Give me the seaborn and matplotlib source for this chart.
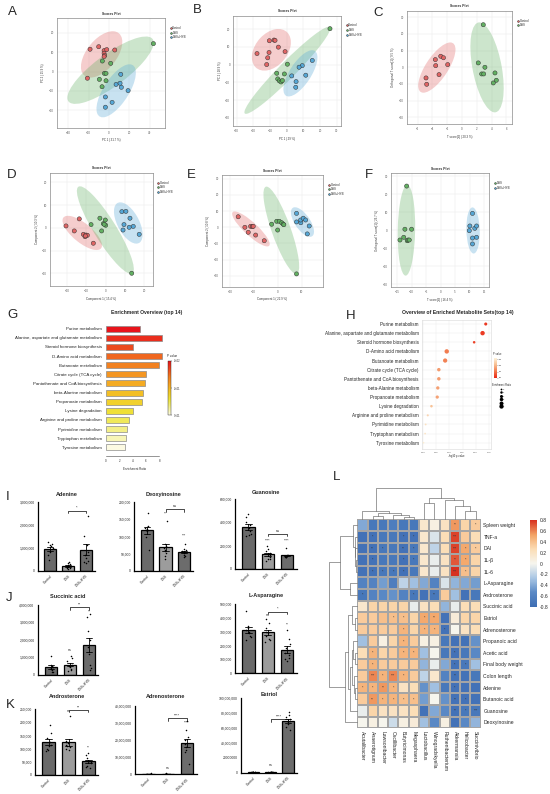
import numpy as np
import pandas as pd
import matplotlib
matplotlib.use('Agg')
import matplotlib.pyplot as plt
import matplotlib.colors as mcolors
from matplotlib.colorbar import ColorbarBase
from matplotlib.lines import Line2D
from matplotlib.patches import Ellipse
import seaborn as sns

sns.set_style('white')
plt.rcParams['font.family'] = ['Liberation Sans', 'DejaVu Sans']

# ---------------- score plots (A-F) ----------------
a_control = [(-18.7, 11.6), (-10.2, 12.9), (-4.9, 10.9), (-2.3, 11.4), (-4.9, 9.5), (-4.3, 8.4), (-4.9, 7.8), (5.6, 11.2), (-21.3, -3.4)]
a_dss = [(43.6, 14.5), (-6.6, 5.5), (1.6, 4.3), (-4.6, -0.9), (-3.0, -0.9), (-9.5, -4.0), (-3.0, -4.7), (-6.9, -7.8)]
a_hyb = [(11.5, -1.4), (6.9, -6.6), (10.8, -6.0), (12.1, -8.1), (18.7, -9.8), (-3.6, -13.1), (3.0, -15.9), (-3.6, -18.4)]

b_control = [(-17.8, 6.2), (-10.4, 13.4), (-7.6, 13.8), (-10.6, 6.8), (-11.4, 3.8), (-12.0, 0.0), (-7.0, 13.6), (-5.0, 9.8), (-1.0, 7.3)]
b_dss = [(25.9, 20.2), (0.4, 0.2), (-6.0, -4.9), (-1.4, -5.3), (-5.4, -8.1), (-4.4, -9.2), (-3.4, -9.8), (-2.6, -9.0)]
b_hyb = [(15.3, 2.3), (9.3, -0.6), (7.4, -1.5), (3.0, -6.4), (11.4, -6.0), (5.6, -9.6), (5.4, -12.8)]

c_control = [(-4.86, -6.4), (-4.77, -10.2), (-3.6, 4.6), (-3.55, 1.0), (-3.1, -4.4), (-2.87, 6.6), (-2.5, 5.7), (-1.93, 1.6)]
c_dss = [(2.88, 25.5), (2.2, 2.6), (3.1, 0.0), (2.66, -4.0), (2.93, -4.0), (4.46, -3.4), (4.64, -7.8), (4.23, -9.4)]

d_control = [(-20.6, 0.9), (-16.3, -1.3), (-13.7, 4.0), (-11.6, -2.8), (-10.7, -3.8), (-10.2, -3.1), (-9.5, -3.2), (-10.5, -3.5), (-6.4, -6.7)]
d_dss = [(-7.6, 1.5), (-3.0, 4.3), (-2.1, -1.3), (-1.2, 1.9), (-0.2, 3.5), (0.0, 1.2), (-0.8, 1.6), (13.5, -19.9)]
d_hyb = [(8.4, 7.2), (10.5, 7.3), (12.6, 4.3), (9.5, 1.5), (9.0, -0.9), (12.2, 0.3), (14.3, 0.7), (17.4, -2.8)]

e_control = [(-16.5, 6.5), (-13.7, 0.0), (-12.3, -3.1), (-11.3, 0.6), (-10.6, 0.4), (-10.2, 0.6), (-9.2, -4.8), (-5.6, -8.3)]
e_dss = [(-2.5, 1.9), (-0.4, 3.7), (0.7, 3.7), (1.7, 2.8), (2.3, 2.0), (2.6, 1.6), (0.0, -1.7), (7.9, -28.8)]
e_hyb = [(7.9, 8.6), (7.9, 3.3), (9.7, 2.8), (9.6, 4.5), (10.7, 5.6), (11.7, 4.5), (13.2, 0.8), (12.4, -4.1)]

f_dss = [(-11.7, 24.6), (-14.0, -5.4), (-12.7, -3.9), (-12.3, 0.6), (-11.5, -5.8), (-11.2, -5.4), (-10.8, -5.4), (-10.0, 0.6)]
f_hyb = [(11.0, 9.4), (10.1, 2.4), (9.9, -0.2), (11.8, 1.1), (12.4, 2.4), (11.0, -4.3), (12.4, -3.9), (11.0, -7.6)]

# ---------------- enrichment (G, H) ----------------
pathways = ['Purine metabolism', 'Alanine, aspartate and glutamate metabolism', 'Steroid hormone biosynthesis',
            'D-Amino acid metabolism', 'Butanoate metabolism', 'Citrate cycle (TCA cycle)',
            'Pantothenate and CoA biosynthesis', 'beta-Alanine metabolism', 'Propanoate metabolism',
            'Lysine degradation', 'Arginine and proline metabolism', 'Pyrimidine metabolism',
            'Tryptophan metabolism', 'Tyrosine metabolism']
enrichment_ratio = [5.1, 8.35, 4.1, 8.35, 7.9, 5.95, 5.9, 5.6, 5.4, 4.1, 3.4, 3.1, 2.95, 2.85]
neg_log10_p = [1.69, 1.63, 1.47, 0.95, 0.92, 0.80, 0.80, 0.78, 0.77, 0.66, 0.59, 0.55, 0.54, 0.51]

# ---------------- metabolite bars (I-K) ----------------
groups = ['Control', 'DSS', 'DSS+HYB']
adenine = {'Control': [1.25e6, 1.2e6, 1.15e6, 1.1e6, 1.0e6, 0.95e6, 0.85e6, 0.7e6, 0.5e6],
           'DSS': [0.35e6, 0.38e6, 0.3e6, 0.25e6, 0.2e6, 0.18e6, 0.15e6, 0.12e6, 0.1e6],
           'DSS+HYB': [2.4e6, 1.55e6, 1.15e6, 0.85e6, 0.7e6, 0.55e6, 0.45e6, 0.4e6, 0.35e6]}
deoxyinosine = {'Control': [170e3, 130e3, 128e3, 125e3, 122e3, 118e3, 115e3, 100e3, 60e3],
                'DSS': [145e3, 80e3, 72e3, 68e3, 62e3, 58e3, 52e3, 45e3, 35e3],
                'DSS+HYB': [78e3, 65e3, 60e3, 58e3, 55e3, 52e3, 48e3, 45e3, 40e3]}
guanosine = {'Control': [470e3, 450e3, 400e3, 380e3, 350e3, 330e3, 300e3, 290e3, 280e3],
             'DSS': [200e3, 170e3, 150e3, 140e3, 120e3, 100e3, 80e3, 80e3, 70e3],
             'DSS+HYB': [175e3, 120e3, 115e3, 110e3, 108e3, 105e3, 100e3, 100e3, 98e3]}
succinic_acid = {'Control': [1.1e6, 0.6e6, 0.5e6, 0.45e6, 0.4e6, 0.35e6, 0.3e6, 0.2e6, 0.15e6],
                 'DSS': [1.1e6, 1.0e6, 0.8e6, 0.6e6, 0.5e6, 0.45e6, 0.35e6, 0.3e6, 0.25e6],
                 'DSS+HYB': [3.5e6, 3.3e6, 2.5e6, 2.0e6, 1.6e6, 1.2e6, 0.6e6, 0.4e6, 0.3e6]}
l_asparagine = {'Control': [450e3, 340e3, 330e3, 310e3, 300e3, 290e3, 270e3, 260e3, 240e3],
                'DSS': [390e3, 360e3, 330e3, 300e3, 290e3, 270e3, 250e3, 240e3, 225e3],
                'DSS+HYB': [310e3, 250e3, 210e3, 180e3, 150e3, 130e3, 110e3, 100e3, 90e3]}
androsterone = {'Control': [190e3, 160e3, 140e3, 125e3, 115e3, 110e3, 100e3, 90e3, 95e3],
                'DSS': [225e3, 130e3, 125e3, 120e3, 115e3, 110e3, 100e3, 95e3, 105e3],
                'DSS+HYB': [85e3, 75e3, 65e3, 55e3, 50e3, 45e3, 35e3, 30e3, 28e3]}
adrenosterone = {'Control': [0.5e6, 0.4e6, 0.35e6, 0.3e6, 0.3e6, 0.25e6, 0.2e6, 0.2e6, 0.2e6],
                 'DSS': [0.5e6, 0.45e6, 0.35e6, 0.3e6, 0.3e6, 0.25e6, 0.2e6, 0.15e6, 0.2e6],
                 'DSS+HYB': [31e6, 26e6, 22e6, 20e6, 18e6, 16e6, 14e6, 13e6, 6e6]}
estriol = {'Control': [1.5e6, 1.2e6, 1.0e6, 1.0e6, 0.9e6, 0.8e6, 0.8e6, 0.7e6, 0.6e6],
           'DSS': [1.4e6, 1.2e6, 1.1e6, 1.0e6, 0.9e6, 0.9e6, 0.8e6, 0.7e6, 0.6e6],
           'DSS+HYB': [82e6, 78e6, 75e6, 72e6, 70e6, 68e6, 65e6, 62e6, 58e6]}

# ---------------- correlation heatmap (L) ----------------
heat_rows = ['Spleen weight', 'TNF-a', 'DAI', '1L-β', '1L-6', 'L-Asparagine', 'Androsterone', 'Succinic acid',
             'Estriol', 'Adrenosterone', 'Propanoic acid', 'Acetic acid', 'Final body weight', 'Colon length',
             'Adenine', 'Butanoic acid', 'Guanosine', 'Deoxyinosine']
heat_cols = ['Acutalibacter', 'Anaerotignum', 'Lawsonibacter', 'Oscillibacter', 'Butyricimonas', 'Megasphaera',
             'Lactobacillus', 'Winogradskyella', 'Ruthenibacterium', 'Akkermansia', 'Helicobacter', 'Succinivibrio']
corr_values = [
    [-0.40, -0.70, -0.70, -0.65, -0.70, -0.70, 0.15, 0.05, 0.20, 0.55, 0.30, 0.35],
    [-0.75, -0.75, -0.70, -0.70, -0.75, -0.75, 0.15, -0.10, 0.25, 0.75, 0.35, 0.25],
    [-0.75, -0.75, -0.70, -0.70, -0.75, -0.70, 0.15, -0.20, 0.25, 0.75, 0.50, 0.35],
    [-0.75, -0.75, -0.70, -0.70, -0.75, -0.70, 0.15, -0.05, 0.20, 0.70, 0.50, 0.30],
    [-0.75, -0.75, -0.70, -0.70, -0.75, -0.70, 0.15, -0.05, 0.20, 0.80, 0.40, 0.30],
    [-0.60, -0.60, -0.45, -0.65, -0.20, -0.30, -0.40, -0.60, -0.10, -0.35, -0.40, -0.45],
    [-0.70, -0.60, -0.55, -0.50, -0.60, -0.70, -0.75, -0.70, 0.35, -0.30, -0.75, -0.70],
    [0.15, 0.30, 0.30, 0.30, 0.30, -0.05, 0.20, 0.25, -0.35, -0.05, 0.25, 0.25],
    [0.35, 0.35, 0.40, 0.40, 0.40, 0.30, 0.50, 0.50, -0.75, 0.10, 0.30, 0.30],
    [0.35, 0.35, 0.35, 0.35, 0.45, 0.30, 0.45, 0.45, -0.75, 0.00, 0.20, 0.25],
    [-0.30, 0.35, 0.05, 0.30, 0.45, 0.35, 0.05, 0.05, -0.70, -0.75, -0.75, -0.50],
    [0.25, 0.45, 0.30, 0.35, 0.45, 0.45, -0.30, 0.00, -0.70, -0.75, -0.70, -0.55],
    [0.35, 0.45, 0.35, 0.35, 0.35, 0.35, -0.35, -0.05, -0.40, -0.75, -0.70, -0.30],
    [0.35, 0.60, 0.45, 0.60, 0.45, 0.35, -0.20, 0.15, -0.60, -0.75, -0.75, -0.70],
    [0.45, 0.45, 0.55, 0.45, 0.20, 0.25, -0.50, -0.30, -0.70, -0.75, -0.75, -0.75],
    [0.35, 0.55, 0.45, 0.45, 0.40, 0.40, -0.45, 0.00, -0.50, -0.75, -0.75, -0.75],
    [-0.05, 0.30, 0.20, 0.20, 0.20, 0.25, -0.75, -0.40, -0.55, -0.75, -0.70, -0.70],
    [0.00, 0.05, 0.00, -0.15, 0.05, 0.10, -0.30, -0.55, 0.05, -0.75, -0.55, -0.35],
]
star_marks = {
    'Spleen weight': {9: '**', 11: '*'},
    'TNF-a': {1: '*', 4: '*', 5: '*', 9: '***'},
    'DAI': {1: '**', 2: '*', 4: '**', 5: '*', 9: '***', 10: '*', 11: '*'},
    '1L-β': {1: '*', 4: '*', 5: '*', 9: '**', 10: '*'},
    '1L-6': {1: '*', 2: '*', 3: '*', 4: '*', 9: '***', 10: '*'},
    'Androsterone': {0: '*', 5: '*', 7: '**'},
    'Estriol': {3: '*', 4: '*', 6: '*', 7: '**'},
    'Adrenosterone': {4: '*', 6: '*', 7: '*', 8: '*'},
    'Propanoic acid': {4: '*'},
    'Acetic acid': {1: '*', 4: '*', 5: '*', 9: '*'},
    'Final body weight': {1: '*', 9: '*', 10: '*'},
    'Colon length': {1: '***', 2: '*', 3: '***', 4: '*', 9: '**'},
    'Adenine': {0: '*', 1: '*', 2: '**', 3: '*', 9: '*'},
    'Butanoic acid': {1: '**', 2: '*', 3: '*', 4: '*', 5: '*', 9: '**', 10: '*'},
    'Guanosine': {9: '**', 10: '*', 11: '***'},
}
# cluster trees: leaf index, or (left, right, merge height)
col_tree = ((0, ((1, 2, 10), (3, (4, 5, 8), 13), 18), 23),
            ((6, 7, 48), (8, (9, (10, 11, 23), 38), 56), 63), 91)
row_tree = (((0, (1, (2, (3, 4, 4), 6), 8), 12), (5, 6, 20), 50),
            (((7, (8, 9, 8), 16), (((10, (11, 12, 8), 12), (13, (14, 15, 6), 10), 16), 16, 22), 28), 17, 36),
            82)

# =====================================================================
W, H = 550, 794
fig = plt.figure(figsize=(5.5, 7.94), dpi=100, facecolor='white')


def px_axes(x0, y0, x1, y1):
    return fig.add_axes([x0 / W, 1 - y1 / H, (x1 - x0) / W, (y1 - y0) / H])


def letter(ch, x, y):
    fig.text(x / W, 1 - y / H, ch, fontsize=9.5, ha='left', va='center')


group_colors = {'Control': '#E06464', 'DSS': '#62B062', 'DSS+HYB': '#55A7D6'}


def add_ellipse(ax, pts, color):
    pts = np.asarray(pts)
    mu = pts.mean(axis=0)
    vals, vecs = np.linalg.eigh(np.cov(pts.T))
    angle = np.degrees(np.arctan2(vecs[1, 1], vecs[0, 1]))
    w, h = 2 * np.sqrt(5.991 * vals[1]), 2 * np.sqrt(5.991 * vals[0])
    ax.add_patch(Ellipse(mu, w, h, angle=angle, facecolor=color, alpha=0.32,
                         edgecolor='none', zorder=1))


def scores_panel(px, data, xlim, ylim, xticks, yticks, xlabel, ylabel):
    ax = px_axes(*px)
    rows = [(x, y, g) for g, pts in data.items() for x, y in pts]
    df = pd.DataFrame(rows, columns=['x', 'y', 'group'])
    for g, pts in data.items():
        add_ellipse(ax, pts, group_colors[g])
    sns.scatterplot(data=df, x='x', y='y', hue='group', hue_order=list(data),
                    palette=group_colors, s=9, edgecolor='#333333', linewidth=0.35,
                    ax=ax, zorder=3)
    leg = ax.get_legend()
    handles = leg.legend_handles
    labels = [t.get_text() for t in leg.get_texts()]
    ax.legend(handles, labels, loc='upper left', bbox_to_anchor=(1.03, 0.94), fontsize=2.1,
              frameon=False, markerscale=0.45, handletextpad=0.2, labelspacing=0.2,
              borderaxespad=0, handlelength=0.8)
    ax.set_xlim(xlim)
    ax.set_ylim(ylim)
    ax.set_xticks(xticks)
    ax.set_yticks(yticks)
    ax.grid(True, color='#e6e6e6', linewidth=0.3)
    ax.set_axisbelow(True)
    ax.tick_params(labelsize=2.1, length=1, width=0.3, colors='#555555', pad=1.2)
    ax.set_xlabel(xlabel, fontsize=2.1, labelpad=2.5, color='#333333')
    ax.set_ylabel(ylabel, fontsize=2.1, labelpad=2.5, color='#333333')
    ax.set_title('Scores Plot', fontsize=2.4, fontweight='bold', pad=2.5)
    for s in ax.spines.values():
        s.set_color('#8a8a8a')
        s.set_linewidth(0.5)
    return ax


scores_panel((56.7, 18.3, 165, 127.7), {'Control': a_control, 'DSS': a_dss, 'DSS+HYB': a_hyb},
             (-51.5, 55), (-29, 27.6), [-40, -20, 0, 20, 40], [-20, -10, 0, 10, 20],
             'PC 1 ( 31.7 %)', 'PC 2 ( 15.9 %)')
scores_panel((233.3, 15.7, 341, 126), {'Control': b_control, 'DSS': b_dss, 'DSS+HYB': b_hyb},
             (-32, 32.5), (-34.6, 27.5), [-30, -20, -10, 0, 10, 20, 30], [-30, -20, -10, 0, 10, 20],
             'PC 1 ( 29 %)', 'PC 2 ( 18.9 %)')
scores_panel((406.7, 10.7, 512.3, 124), {'Control': c_control, 'DSS': c_dss},
             (-7.47, 6.8), (-34, 33.9), [-6, -4, -2, 0, 2, 4, 6], [-30, -20, -10, 0, 10, 20, 30],
             'T score[1] ( 20.3 %)', 'Orthogonal T score[1] ( 9.5 %)')
scores_panel((50, 172.7, 152.7, 286), {'Control': d_control, 'DSS': d_dss, 'DSS+HYB': d_hyb},
             (-28.9, 24.4), (-25.5, 24.3), [-20, -10, 0, 10, 20], [-20, -10, 0, 10, 20],
             'Component 1 ( 15.4 %)', 'Component 2 ( 10.3 %)')
scores_panel((221.7, 175, 323.3, 286.7), {'Control': e_control, 'DSS': e_dss, 'DSS+HYB': e_hyb},
             (-23.4, 19.1), (-36.7, 32.3), [-20, -10, 0, 10], [-30, -20, -10, 0, 10, 20, 30],
             'Component 1 ( 22.9 %)', 'Component 2 ( 10.8 %)')
scores_panel((390.7, 173.3, 489.3, 287.3), {'DSS': f_dss, 'DSS+HYB': f_hyb},
             (-17.2, 16.8), (-31.7, 31.7), [-15, -10, -5, 0, 5, 10, 15], [-30, -20, -10, 0, 10, 20, 30],
             'T score[1] ( 16.4 %)', 'Orthogonal T score[1] ( 26.7 %)')

for ch, x, y in [('A', 8, 12), ('B', 193, 10), ('C', 373, 13), ('D', 7, 175), ('E', 187, 175), ('F', 365, 175)]:
    letter(ch, x, y)

# ---------------- G: enrichment overview bars ----------------
enrich = pd.DataFrame({'pathway': pathways, 'ratio': enrichment_ratio, 'logp': neg_log10_p})
enrich['p'] = 10 ** (-enrich['logp'])
cmap_g = mcolors.LinearSegmentedColormap.from_list(
    'heat', ['#e8141c', '#ec461e', '#f27c20', '#f5a223', '#f2c825', '#eee43a', '#f3f08e', '#fcfae2'])
rank = enrich['p'].rank(method='first') - 1
bar_cols = [cmap_g(r / (len(enrich) - 1)) for r in rank]

axg = px_axes(106, 321, 162.7, 456)
sns.barplot(data=enrich, x='ratio', y='pathway', hue='pathway', palette=bar_cols, legend=False,
            orient='h', width=0.66, edgecolor='#8c8c8c', linewidth=0.5, saturation=1, ax=axg)
axg.set_xlim(0, 8.5)
axg.set_ylim(13.95, -0.84)
for s in ['top', 'right', 'left']:
    axg.spines[s].set_visible(False)
axg.spines['bottom'].set_bounds(0, 8)
axg.spines['bottom'].set_linewidth(0.4)
axg.spines['bottom'].set_color('#444444')
axg.set_xticks([0, 2, 4, 6, 8])
axg.tick_params(axis='x', labelsize=2.1, length=1.2, width=0.4, pad=1)
axg.tick_params(axis='y', labelsize=3.2, length=0, pad=3)
axg.set_ylabel('')
axg.set_xlabel('Enrichment Ratio', fontsize=2.1, labelpad=3)
fig.text(147 / W, 1 - 312.7 / H, 'Enrichment Overview (top 14)', fontsize=3.6, fontweight='bold',
         ha='center', va='center')
cax_g = px_axes(167.7, 361, 171, 415)
pmin, pmax = enrich['p'].min(), enrich['p'].max()
cb_g = ColorbarBase(cax_g, cmap=cmap_g, norm=mcolors.Normalize(pmin, pmax), orientation='vertical')
cax_g.invert_yaxis()
cb_g.set_ticks([pmin, (pmin + pmax) / 2, pmax])
cb_g.set_ticklabels(['%.0e' % v for v in [pmin, (pmin + pmax) / 2, pmax]])
cax_g.tick_params(labelsize=1.8, length=0.8, width=0.3, pad=1)
cb_g.outline.set_linewidth(0.3)
fig.text(167 / W, 1 - 356 / H, 'P value', fontsize=2.2, ha='left', va='center')
letter('G', 7, 315)

# ---------------- H: enrichment dot plot ----------------
cmap_h = mcolors.LinearSegmentedColormap.from_list('ph', ['#ea2a18', '#f1794c', '#f8bf92', '#fdf3da'])
axh = px_axes(421.7, 320, 491, 449.3)
enrich['row'] = np.arange(len(enrich))
sns.scatterplot(data=enrich, x='logp', y='row', hue='p', palette=cmap_h, hue_norm=(0, 0.32),
                size='ratio', sizes=(0.8, 10.4), size_norm=(2.5, 8.5), legend=False,
                edgecolor='none', ax=axh, zorder=3)
axh.set_ylim(13.72, -0.44)
axh.set_xlim(0.475, 1.79)
axh.set_yticks(enrich['row'])
axh.set_yticklabels(pathways)
axh.set_xticks([0.5, 0.75, 1.0, 1.25, 1.5, 1.75])
axh.set_xticklabels(['0.50', '0.75', '1.00', '1.25', '1.50', '1.75'])
axh.grid(True, color='#ebebeb', linewidth=0.35)
axh.set_axisbelow(True)
axh.tick_params(axis='y', labelsize=3.3, length=0, pad=2)
axh.tick_params(axis='x', labelsize=1.7, length=0.8, width=0.3, pad=0.8, colors='#555555')
axh.set_ylabel('')
axh.set_xlabel('-log10 p-value', fontsize=1.9, labelpad=1)
for s in axh.spines.values():
    s.set_color('#d9d9d9')
    s.set_linewidth(0.4)
fig.text(458 / W, 1 - 312.7 / H, 'Overview of Enriched Metabolite Sets(top 14)', fontsize=3.7,
         fontweight='bold', ha='center', va='center')
cax_h = px_axes(493.7, 358, 496.7, 377.7)
cb_h = ColorbarBase(cax_h, cmap=cmap_h, norm=mcolors.Normalize(0, 0.32), orientation='vertical')
cb_h.set_ticks([0.0, 0.1, 0.2, 0.3])
cax_h.tick_params(labelsize=1.5, length=0.6, width=0.3, pad=0.8)
cb_h.outline.set_visible(False)
fig.text(493 / W, 1 - 354.5 / H, 'P value', fontsize=1.8, ha='left', va='center')
size_levels = [3, 4, 5, 6, 7, 8]
size_handles = [Line2D([], [], linestyle='none', marker='o', color='black', markeredgewidth=0,
                       markersize=np.sqrt(0.8 + (v - 2.5) / 6.0 * 9.6)) for v in size_levels]
axh.legend(size_handles, [str(v) for v in size_levels], title='Enrichment Ratio',
           loc='upper left', bbox_to_anchor=(492.5 / W, 1 - 383 / H), bbox_transform=fig.transFigure,
           fontsize=1.6, title_fontsize=1.8, frameon=False, labelspacing=0.3, handletextpad=0.4,
           borderaxespad=0, borderpad=0, handlelength=1.2, handleheight=1.6)
letter('H', 346, 316)

# ---------------- I-K: metabolite bars ----------------
bar_colors = {'Control': '#6a6a6a', 'DSS': '#9c9c9c', 'DSS+HYB': '#6c6c6c'}
np.random.seed(7)

bar_layout = [
    ('Adenine', adenine, (37.7, 502.3, 95, 571), 3e6, 1e6, 494, ('*', 0.88), []),
    ('Deoxyinosine', deoxyinosine, (134, 502.3, 193.3, 571), 2e5, 5e4, 494, ('ns', 0.9),
     [(1, '**', 0.8), (2, '***', 0.48)]),
    ('Guanosine', guanosine, (235, 499.3, 296.7, 568.7), 6e5, 2e5, 492, ('ns', 0.5),
     [(1, '****', 0.38), (2, '****', 0.38)]),
    ('Succinic acid', succinic_acid, (37.7, 605, 98.3, 675), 4e6, 1e6, 597, ('**', 0.97),
     [(1, 'ns', 0.33), (2, '**', 0.88)]),
    ('L-Asparagine', l_asparagine, (235, 604, 296.7, 673.3), 5e5, 1e5, 596, ('*', 0.89),
     [(1, 'ns', 0.81), (2, '**', 0.67)]),
    ('Androsterone', androsterone, (35, 709.3, 98.3, 775), 2.5e5, 5e4, 697, ('**', 0.99),
     [(1, 'ns', 0.94), (2, '**', 0.39)]),
    ('Adrenosterone', adrenosterone, (135, 706, 196.7, 774.3), 4e7, 1e7, 697, ('****', 0.82),
     [(1, 'ns', 0.07), (2, '****', 0.72)]),
    ('Estriol', estriol, (241, 698.3, 296.7, 772.7), 1e8, 2e7, 695, ('****', 0.72),
     [(1, 'ns', 0.07), (2, '****', 0.62)]),
]

for title, values, px, ymax, step, title_y, bracket, marks in bar_layout:
    ax = px_axes(*px)
    df = pd.DataFrame([(g, v) for g in groups for v in values[g]], columns=['group', 'value'])
    sns.barplot(data=df, x='group', y='value', hue='group', order=groups, hue_order=groups,
                palette=bar_colors, legend=False, errorbar='se', capsize=0.35, width=0.65,
                saturation=1, edgecolor='black', linewidth=0.9,
                err_kws={'linewidth': 0.6, 'color': 'black'}, ax=ax)
    sns.stripplot(data=df, x='group', y='value', order=groups, color='black', size=1.1,
                  jitter=0.14, ax=ax, zorder=4)
    ax.set_xlim(-0.7, 2.5)
    ax.set_ylim(0, ymax)
    yt = np.arange(0, ymax + step / 2, step)
    ax.set_yticks(yt)
    labels = ['{:,.0f}'.format(v) for v in yt]
    if title == 'Estriol':
        labels[1] = '20000000'
    ax.set_yticklabels(labels)
    ax.set_xticks(range(3))
    ax.set_xticklabels(groups, rotation=45, ha='right', rotation_mode='anchor')
    ax.tick_params(axis='y', labelsize=2.4, length=1.5, width=0.6, pad=0.8)
    ax.tick_params(axis='x', labelsize=2.4, length=1.5, width=0.6, pad=0.8)
    ax.set_xlabel('')
    ax.set_ylabel('')
    for s in ['top', 'right']:
        ax.spines[s].set_visible(False)
    for s in ['left', 'bottom']:
        ax.spines[s].set_linewidth(0.9)
        ax.spines[s].set_color('black')
    ax.spines['bottom'].set_bounds(-0.7, 2.5)
    # bracket DSS vs DSS+HYB
    lab, frac = bracket
    yb = frac * ymax
    ax.plot([1, 1, 2, 2], [yb - 0.035 * ymax, yb, yb, yb - 0.035 * ymax], color='black',
            linewidth=0.5, clip_on=False)
    ax.text(1.5, yb + 0.01 * ymax, lab, ha='center', va='bottom', fontsize=2.8, clip_on=False)
    for gi, lab2, frac2 in marks:
        ax.text(gi, frac2 * ymax, lab2, ha='center', va='bottom', fontsize=2.6)
    fig.text((px[0] + px[2]) / 2 / W, 1 - title_y / H, title, fontsize=4.0, fontweight='bold',
             ha='center', va='center')

letter('I', 6, 497)
letter('J', 6, 598)
letter('K', 6, 705)

# ---------------- L: clustered correlation heatmap ----------------
corr = pd.DataFrame(corr_values, index=heat_rows, columns=heat_cols)
annot = np.full(corr.shape, '', dtype=object)
for r, marks in star_marks.items():
    for c, m in marks.items():
        annot[heat_rows.index(r), c] = m
cmap_l = mcolors.LinearSegmentedColormap.from_list(
    'corr', [(0.0, '#3d6db3'), (0.17, '#5b8ac6'), (0.33, '#a9c6e4'), (0.5, '#f6f5ee'),
             (0.67, '#fbdcb3'), (0.83, '#f3a466'), (1.0, '#d7301f')])

axl = px_axes(357.3, 519.3, 480.7, 728.3)
cax_l = px_axes(530, 520, 537, 607)
sns.heatmap(corr, ax=axl, cbar_ax=cax_l, cmap=cmap_l, vmin=-0.8, vmax=0.8, linewidths=0.35,
            linecolor='#a5a5a5', annot=annot, fmt='', annot_kws={'size': 2.6, 'color': '#333333'})
axl.yaxis.tick_right()
axl.set_yticks(np.arange(len(heat_rows)) + 0.5)
axl.set_yticklabels(heat_rows, rotation=0, fontsize=3.6)
axl.set_xticks(np.arange(len(heat_cols)) + 0.5)
axl.set_xticklabels(heat_cols, rotation=-90, fontsize=3.6, ha='center', va='top')
axl.tick_params(length=0, pad=2)
axl.set_xlabel('')
axl.set_ylabel('')
cax_l.set_yticks(np.round(np.arange(-0.8, 0.81, 0.2), 1))
cax_l.set_yticklabels(['-0.8', '-0.6', '-0.4', '-0.2', '0', '0.2', '0.4', '0.6', '0.8'])
cax_l.tick_params(labelsize=3.6, length=0, pad=2)


def draw_tree(ax, node, orient):
    if isinstance(node, int):
        return node + 0.5, 0.0
    left, right, h = node
    pl, hl = draw_tree(ax, left, orient)
    pr, hr = draw_tree(ax, right, orient)
    if orient == 'top':
        ax.plot([pl, pl, pr, pr], [hl, h, h, hr], color='#666666', linewidth=0.45, clip_on=False)
    else:
        ax.plot([hl, h, h, hr], [pl, pl, pr, pr], color='#666666', linewidth=0.45, clip_on=False)
    return (pl + pr) / 2, h


ax_ct = px_axes(357.3, 488, 480.7, 519.3)
draw_tree(ax_ct, col_tree, 'top')
ax_ct.set_xlim(0, len(heat_cols))
ax_ct.set_ylim(0, col_tree[2])
ax_ct.axis('off')

ax_rt = px_axes(329.3, 519.3, 357.3, 728.3)
draw_tree(ax_rt, row_tree, 'left')
ax_rt.set_xlim(row_tree[2], 0)
ax_rt.set_ylim(len(heat_rows), 0)
ax_rt.axis('off')
letter('L', 333, 477)

fig.savefig('out.png', dpi=100, facecolor='white')
